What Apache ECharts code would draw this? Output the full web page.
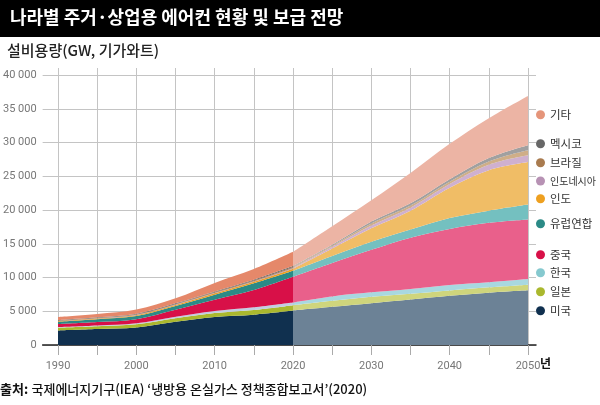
<!DOCTYPE html>
<html><head><meta charset="utf-8">
<script src="https://cdn.jsdelivr.net/npm/echarts@6/dist/echarts.min.js"></script>
<style>html,body{margin:0;padding:0;background:#fff}#c{width:600px;height:405px}</style>
</head><body><div id="c"></div>
<script>
const names = ['미국','일본','한국','중국','유럽연합','인도','인도네시아','브라질','멕시코','기타'];
const years = ['1990','1995','2000','2005','2010','2015','2020','2025','2030','2035','2040','2045','2050'];
// historical 1990-2020 (GW)
const usHist  = [2160,2370,2610,3450,4150,4490,5100];
const jpHist  = [400,400,450,520,590,700,800];
const krHist  = [100,120,150,200,300,400,400];
const cnHist  = [450,520,620,1050,1650,2550,3800];
const euHist  = [330,400,450,550,760,990,900];
const inHist  = [80,100,130,150,200,230,300];
const idHist  = [40,50,60,70,80,90,120];
const brHist  = [60,70,80,90,110,120,150];
const mxHist  = [60,70,80,90,100,110,120];
const etcHist = [470,500,620,750,1260,1570,2110];
// projection 2020-2050 (GW)
const usProj  = [5100,5650,6200,6750,7300,7750,8100];
const jpProj  = [800,900,950,850,780,790,840];
const krProj  = [400,650,650,700,820,760,840];
const cnProj  = [3800,4950,6300,7600,8300,8800,8820];
const euProj  = [900,1050,1200,1200,1600,1800,2200];
const inProj  = [300,1100,2000,2800,4500,6000,6300];
const idProj  = [120,250,400,450,550,800,1000];
const brProj  = [150,150,300,300,350,500,750];
const mxProj  = [120,160,300,350,350,500,750];
const etcProj = [2110,2740,3150,4500,5250,5900,7300];
const yTicks = [0,5000,10000,15000,20000,25000,30000,35000,40000];

const histData = [usHist,jpHist,krHist,cnHist,euHist,inHist,idHist,brHist,mxHist,etcHist];
const projData = [usProj,jpProj,krProj,cnProj,euProj,inProj,idProj,brProj,mxProj,etcProj];
const histColors = ['#10304f','#aab82e','#c2cde2','#d81048','#2b8a86','#eea020','#b792b4','#a97b4f','#676767','#e5886a'];
const projColors = ['#6c8296','#cfd57c','#a8d8e0','#e9608b','#74c0c0','#f0bd66','#cfb0cf','#cfae88','#a0a0a0','#ecb4a4'];
const legendColors = ['#10304f','#aab82e','#86c9cf','#d81048','#2b8a86','#eea020','#b792b4','#a97b4f','#676767','#e5957a'];
const legendY = [311,292,273,255,224,199,182,163,144,115];

const fmt = v => String(v).replace(/\B(?=(\d{3})+(?!\d))/g,' ');
const nH = usHist.length;
const series = [];
names.forEach((n,i)=>{
  const d = years.map((y,k)=> k < nH ? histData[i][k] : null);
  series.push({name:n,type:'line',stack:'h',xAxisIndex:0,yAxisIndex:0,smooth:0.35,symbol:'none',
    lineStyle:{width:0},itemStyle:{color:histColors[i]},areaStyle:{color:histColors[i],opacity:1},
    data:d,z:3});
});
names.forEach((n,i)=>{
  const d = years.map((y,k)=> k >= nH-1 ? projData[i][k-(nH-1)] : null);
  series.push({name:n,type:'line',stack:'p',xAxisIndex:0,yAxisIndex:0,smooth:0.35,symbol:'none',
    lineStyle:{width:0},itemStyle:{color:projColors[i]},areaStyle:{color:projColors[i],opacity:1},
    data:d,z:3});
});
const legends = names.map((n,i)=>({
  data:[{name:n,itemStyle:{color:legendColors[i]}}],left:536,top:legendY[i]-8,
  icon:'circle',itemWidth:9,itemHeight:9,itemGap:0,selectedMode:false,padding:[2,0,2,0],
  textStyle:{fontSize:n.length>4?10:11.5,color:'#333',fontFamily:'Noto Sans CJK KR'}
}));
const TOP=68, BOTTOM=60;
const yMaxMain = 40000 + 7/6.75*1000;
const option = {
  animation:false,
  backgroundColor:'#fff',
  textStyle:{fontFamily:'Roboto'},
  legend:legends,
  grid:[
    {left:58,right:72,top:TOP,bottom:BOTTOM},
    {left:42,right:64,top:75,bottom:BOTTOM}
  ],
  xAxis:[
    {type:'category',gridIndex:0,data:years,boundaryGap:false,
     axisLine:{show:false},
     axisTick:{show:true,length:10,interval:0,lineStyle:{color:'#aaa'}},
     splitLine:{show:true,interval:0,lineStyle:{color:'#c4c4c4',width:1}},
     axisLabel:{margin:16,fontSize:11,color:'#777',fontFamily:'Roboto',interval:1}},
    {type:'value',gridIndex:1,min:0,max:1,show:true,
     axisLine:{show:true,lineStyle:{color:'#222',width:1.5}},axisTick:{show:false},axisLabel:{show:false},splitLine:{show:false}}
  ],
  yAxis:[
    {type:'value',gridIndex:0,min:0,max:yMaxMain,show:false,splitLine:{show:false}},
    {type:'value',gridIndex:1,min:0,max:40000,interval:5000,
     axisLine:{show:false},axisTick:{show:false},
     splitLine:{show:true,lineStyle:{color:'#c4c4c4',width:1}},
     axisLabel:{margin:6,fontSize:11,color:'#777',fontFamily:'Roboto',formatter:v=>fmt(v)}}
  ],
  series:series,
  graphic:[
    {type:'rect',left:0,top:0,shape:{width:600,height:37},style:{fill:'#000'},z:10},
    {type:'text',left:10,top:8,style:{text:'나라별 주거·상업용 에어컨 현황 및 보급 전망',fill:'#fff',
      font:'bold 18px "Noto Sans CJK KR"'},z:11},
    {type:'text',left:7,top:43,style:{text:'설비용량(GW, 기가와트)',fill:'#222',
      font:'500 15px "Noto Sans CJK KR"'},z:11},
    {type:'text',left:540,top:357,style:{text:'년',fill:'#111',font:'bold 12px "Noto Sans CJK KR"'},z:11},
    {type:'text',left:0,top:383,style:{rich:{a:{font:'bold 13px "Noto Sans CJK KR"',fill:'#111'},
      b:{font:'500 13px "Noto Sans CJK KR"',fill:'#111'}},
      text:'{a|출처:} {b|국제에너지기구(IEA) ‘냉방용 온실가스 정책종합보고서’(2020)}'},z:11}
  ]
};
echarts.init(document.getElementById('c')).setOption(option);
</script></body></html>
